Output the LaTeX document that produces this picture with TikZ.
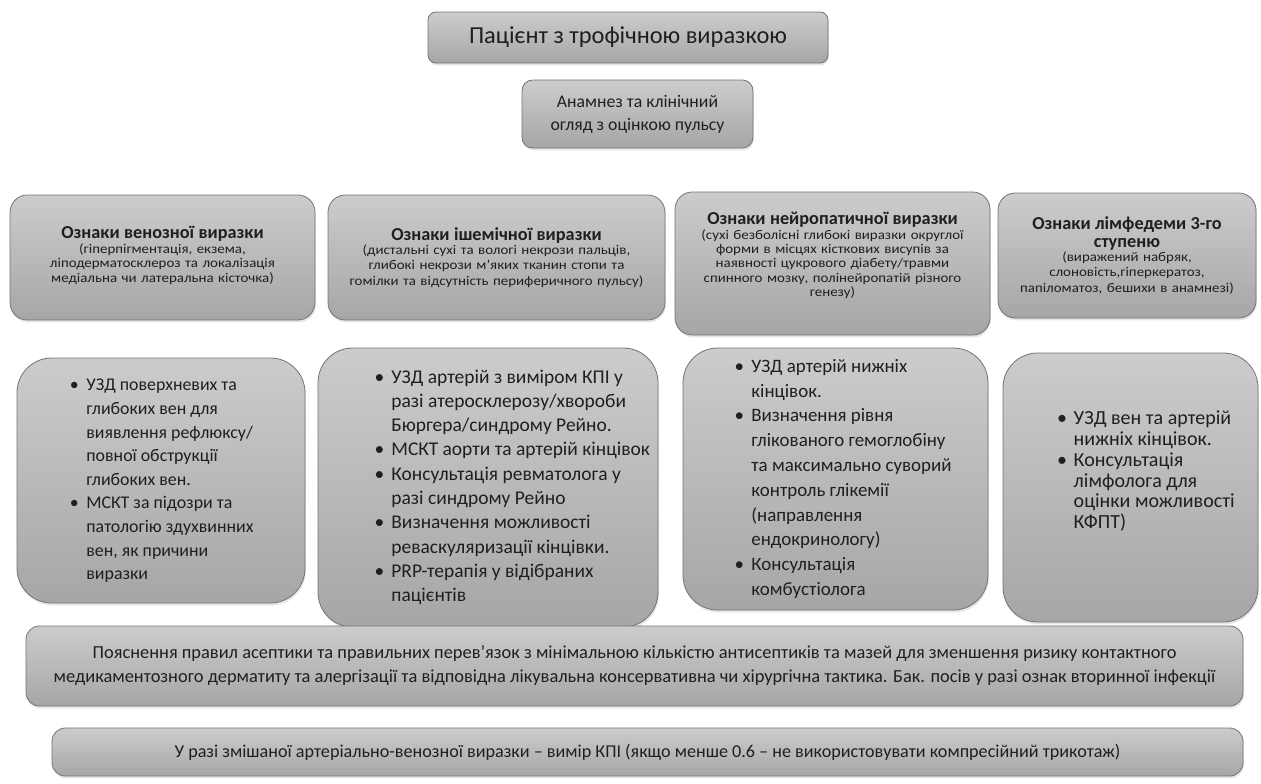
\documentclass[tikz,border=0pt]{standalone}
\usepackage{fontspec}
\setmainfont{Carlito}
\newfontfamily\subFamily{Carlito}[FakeStretch=1.12]
\usepackage{tikz}
\usetikzlibrary{shadows}
\definecolor{boxTop}{RGB}{204,204,204}
\definecolor{boxBot}{RGB}{166,166,166}
\definecolor{boxLine}{RGB}{115,115,115}
\tikzstyle{greyBox} = [draw=boxLine, line width=0.6pt, top color=boxTop, bottom color=boxBot,
   drop shadow={opacity=0.2, shadow xshift=0.6pt, shadow yshift=-1.8pt},
   inner sep=2pt, text=black!88]
\tikzstyle{titleBox} = [greyBox, rounded corners=6pt, align=center]
\tikzstyle{signBox} = [greyBox, rounded corners=13pt, align=center]
\tikzstyle{testBox} = [greyBox, rounded corners=26pt]
\tikzstyle{wideBox} = [greyBox, rounded corners=10pt, align=center]
\tikzset{sz/.style 2 args={minimum width=#1*0.75pt, minimum height=#2*0.75pt}}
\newcommand{\headFont}{\fontsize{13.7pt}{13.5pt}\selectfont\bfseries}
\newcommand{\subFont}{\subFamily\fontsize{10pt}{10.8pt}\selectfont}
\newenvironment{bulletRows}{\begin{tabular}{@{}p{12.5pt}@{}l@{}}}{\end{tabular}}

\begin{document}
\begin{tikzpicture}[x=0.75pt, y=-0.75pt]
  \useasboundingbox (0,0) rectangle (1261,783);

  \node[titleBox, sz={400}{51}, font=\fontsize{18.3pt}{21pt}\selectfont] at (628,37.5) (patient) {Пацієнт з трофічною виразкою};
  \node[titleBox, sz={231}{68}, rounded corners=8pt, font=\fontsize{13.3pt}{17.25pt}\selectfont] at (637.5,114) (history) {Анамнез та клінічний\\ огляд з оцінкою пульсу};

  \node[signBox, sz={305}{125}, text width=220pt] at (162.5,257.5) (venSign) {{\headFont Ознаки венозної виразки\par}\subFont (гіперпігментація, екзема,\\ ліподерматосклероз та локалізація\\ медіальна чи латеральна кісточка)\par\vspace{3pt}};
  \node[signBox, sz={337}{125}, text width=245pt] at (496.5,257.5) (ischSign) {{\headFont Ознаки ішемічної виразки\par}\subFont (дистальні сухі та вологі некрози пальців,\\ глибокі некрози м’яких тканин стопи та\\ гомілки та відсутність периферичного пульсу)};
  \node[signBox, sz={315}{143}, text width=228pt] at (832.5,263.5) (neurSign) {{\headFont Ознаки нейропатичної виразки\par}\subFont (сухі безболісні глибокі виразки округлої\\ форми в місцях кісткових висупів за\\ наявності цукрового діабету/травми\\ спинного мозку, полінейропатій різного\\ генезу)\par\vspace{12pt}};
  \node[signBox, sz={258}{125}, text width=185pt] at (1127,255.5) (lymphSign) {{\headFont Ознаки лімфедеми 3-го\\ ступеню\par}\subFont (виражений набряк,\\ слоновість,гіперкератоз,\\ папіломатоз, бешихи в анамнезі)};

  \node[testBox, sz={288}{245}, font=\fontsize{13.4pt}{17.7pt}\selectfont] at (161,480.5) (venTest) {\hspace*{1pt}\begin{bulletRows}
    \textbullet & УЗД поверхневих та\\ & глибоких вен для\\ & виявлення рефлюксу/\\ & повної обструкції\\ & глибоких вен.\\
    \textbullet & МСКТ за підозри та\\ & патологію здухвинних\\ & вен, як причини\\ & виразки
  \end{bulletRows}};
  \node[testBox, sz={340}{279}, font=\fontsize{14.6pt}{18.2pt}\selectfont] at (488,487.5) (ischTest) {\hspace*{36.5pt}\begin{bulletRows}
    \textbullet & УЗД артерій з виміром КПІ у\\ & разі атеросклерозу/хвороби\\ & Бюргера/синдрому Рейно.\\
    \textbullet & МСКТ аорти та артерій кінцівок\\
    \textbullet & Консультація ревматолога у\\ & разі синдрому Рейно\\
    \textbullet & Визначення можливості\\ & реваскуляризації кінцівки.\\
    \textbullet & PRP-терапія у відібраних\\ & пацієнтів
  \end{bulletRows}};
  \node[testBox, sz={305}{262}, font=\fontsize{14.2pt}{18.6pt}\selectfont] at (835.5,479) (neurTest) {\hspace*{11.5pt}\begin{bulletRows}
    \textbullet & УЗД артерій нижніх\\ & кінцівок.\\
    \textbullet & Визначення рівня\\ & глікованого гемоглобіну\\ & та максимально суворий\\ & контроль глікемії\\ & (направлення\\ & ендокринологу)\\
    \textbullet & Консультація\\ & комбустіолога
  \end{bulletRows}};
  \node[testBox, sz={255}{269}, font=\fontsize{15pt}{15.6pt}\selectfont] at (1130.5,487.5) (lymphTest) {\hspace*{23pt}\begin{bulletRows}
    \textbullet & УЗД вен та артерій\\ & нижніх кінцівок.\\
    \textbullet & Консультація\\ & лімфолога для\\ & оцінки можливості\\ & КФПТ)\\[22.5pt]
  \end{bulletRows}};

  \node[wideBox, sz={1217}{80}, font=\fontsize{13.8pt}{18pt}\selectfont] at (634.5,666) (care) {Пояснення правил асептики та правильних перев’язок з мінімальною кількістю антисептиків та мазей для зменшення ризику контактного\\ медикаментозного дерматиту та алергізації та відповідна лікувальна консервативна чи хірургічна тактика. Бак. посів у разі ознак вторинної інфекції};
  \node[wideBox, sz={1191}{48}, font=\fontsize{13.6pt}{17.5pt}\selectfont] at (647.5,752) (mixed) {У разі змішаної артеріально-венозної виразки – вимір КПІ (якщо менше 0.6 – не використовувати компресійний трикотаж)};
\end{tikzpicture}
\end{document}
